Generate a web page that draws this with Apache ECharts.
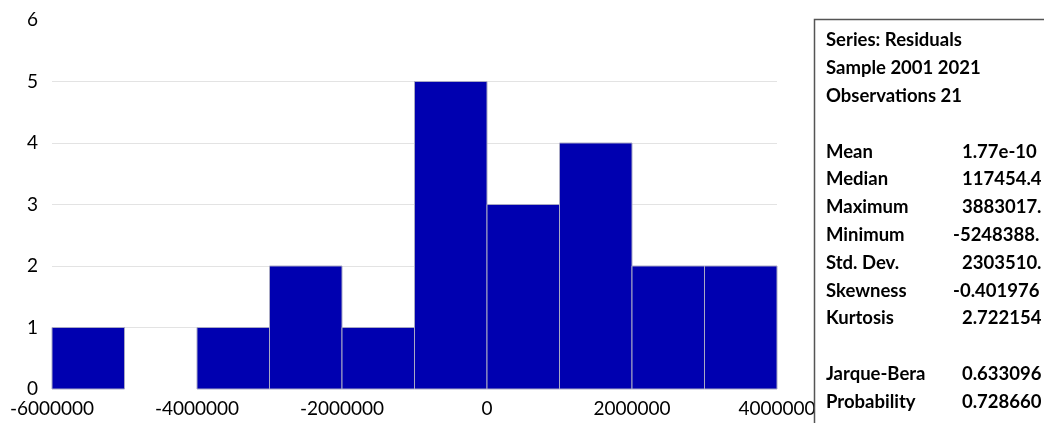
<!DOCTYPE html>
<html>
<head>
<meta charset="utf-8">
<script src="https://cdn.jsdelivr.net/npm/echarts@6/dist/echarts.min.js"></script>
<style>
  html, body { margin: 0; padding: 0; background: #fff; }
  #chart { width: 1044px; height: 423px; }
</style>
</head>
<body>
<div id="chart"></div>
<script>
// histogram bins: lower edges, width, counts
const binStarts = [-6000000, -5000000, -4000000, -3000000, -2000000, -1000000, 0, 1000000, 2000000, 3000000];
const binWidth = 1000000;
const counts = [1, 0, 1, 2, 1, 5, 3, 4, 2, 2];

const headerLines = ['Series: Residuals', 'Sample 2001 2021', 'Observations 21'];
const statNames = ['Mean', 'Median', 'Maximum', 'Minimum', 'Std. Dev.', 'Skewness', 'Kurtosis'];
const statValues = ['1.77e-10', '117454.4', '3883017.', '-5248388.', '2303510.', '-0.401976', '2.722154'];
const testNames = ['Jarque-Bera', 'Probability'];
const testValues = ['0.633096', '0.728660'];

const FONT = 'Lato, "Open Sans", sans-serif';

const chart = echarts.init(document.getElementById('chart'), null, { renderer: 'canvas' });

const rowY = (i) => 40.5 + i * 27.8;
const textEl = (text, x, y) => ({
  type: 'text',
  z: 10,
  style: {
    text, x, y,
    fill: '#000',
    fontFamily: FONT,
    fontWeight: 'bold',
    fontSize: 18.5,
    verticalAlign: 'middle',
    align: 'left',
  },
});

const boxItems = [
  {
    type: 'rect',
    z: 9,
    shape: { x: 814.5, y: 19.5, width: 300, height: 500 },
    style: { fill: '#fff', stroke: '#555', lineWidth: 1.5 },
  },
];
headerLines.forEach((t, i) => boxItems.push(textEl(t, 826, rowY(i))));
statNames.forEach((t, i) => {
  boxItems.push(textEl(t, 826, rowY(i + 4)));
  const v = statValues[i];
  boxItems.push(textEl(v, v.startsWith('-') ? 953 : 962, rowY(i + 4)));
});
testNames.forEach((t, i) => {
  boxItems.push(textEl(t, 826, rowY(i + 12)));
  boxItems.push(textEl(testValues[i], 962, rowY(i + 12)));
});

chart.setOption({
  animation: false,
  grid: { left: 52, right: 267, top: 20, bottom: 34 },
  xAxis: {
    type: 'value',
    min: -6000000,
    max: 4000000,
    interval: 2000000,
    axisLine: { show: false },
    axisTick: { show: false },
    splitLine: { show: false },
    axisLabel: { color: '#000', fontFamily: FONT, fontSize: 19, margin: 10, formatter: (v) => String(v) },
  },
  yAxis: {
    type: 'value',
    min: 0,
    max: 6,
    interval: 1,
    axisLine: { show: false },
    axisTick: { show: false },
    splitLine: { show: true, showMinLine: false, showMaxLine: false, lineStyle: { color: '#e3e3e3', width: 1 } },
    axisLabel: { color: '#000', fontFamily: FONT, fontSize: 19, margin: 14 },
  },
  series: [{
    type: 'custom',
    data: binStarts.map((s, i) => [s, s + binWidth, counts[i]]),
    encode: { x: [0, 1], y: 2 },
    renderItem: (params, api) => {
      if (!api.value(2)) return null;
      const p0 = api.coord([api.value(0), api.value(2)]);
      const p1 = api.coord([api.value(1), 0]);
      return {
        type: 'rect',
        shape: { x: p0[0], y: p0[1], width: p1[0] - p0[0], height: p1[1] - p0[1] },
        style: { fill: '#0000b0', stroke: '#a8a8c4', lineWidth: 1 },
      };
    },
  }],
  graphic: boxItems,
});
</script>
</body>
</html>
